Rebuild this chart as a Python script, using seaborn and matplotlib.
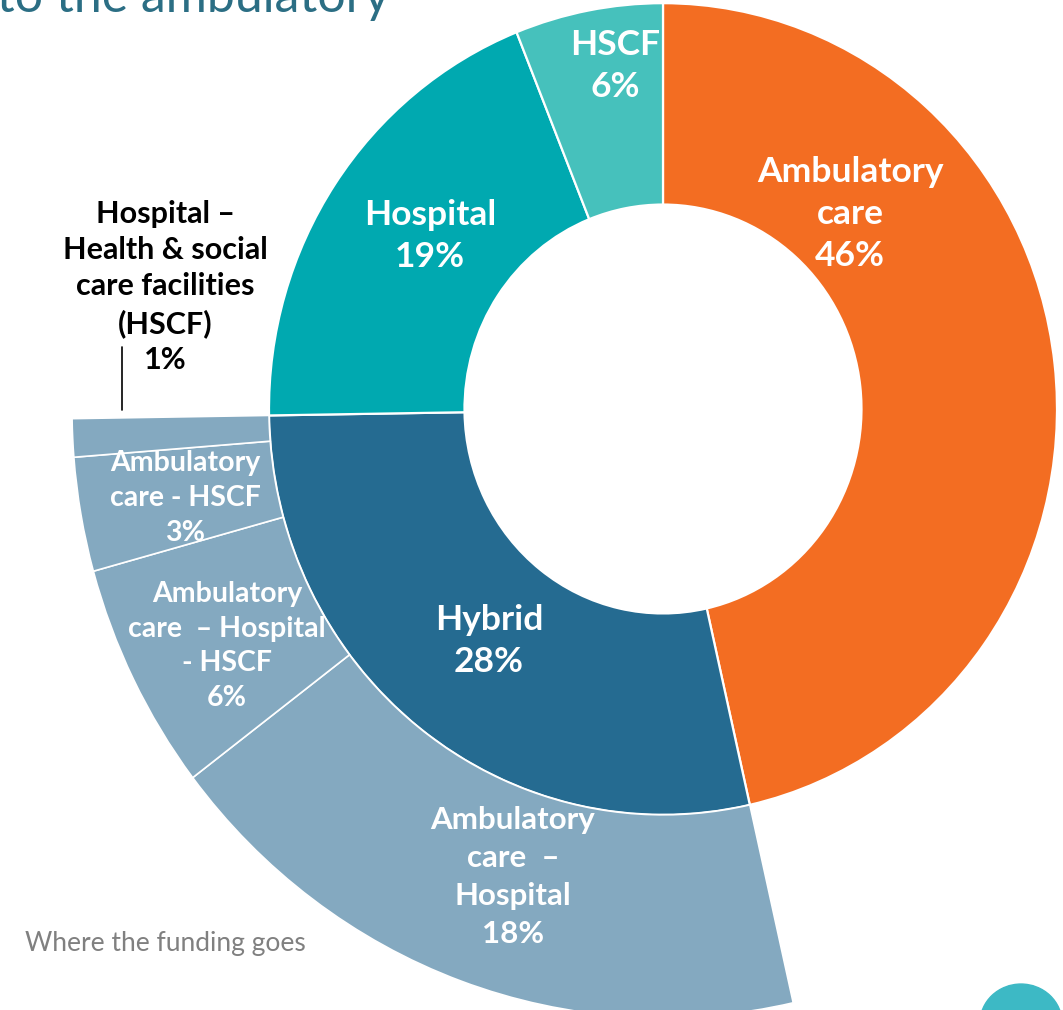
import matplotlib
matplotlib.use("Agg")
import matplotlib.pyplot as plt
import seaborn as sns

# main ring: where the funding goes
segments = ["Ambulatory care", "Hybrid", "Hospital", "HSCF"]
shares = [46, 28, 19, 6]
seg_labels = ["Ambulatory\ncare\n46%", "Hybrid\n28%", "Hospital\n19%", "HSCF\n6%"]

# breakdown of the hybrid slice (clockwise from the ambulatory edge)
hybrid_parts = ["Ambulatory care - Hospital", "Ambulatory care - Hospital - HSCF",
                "Ambulatory care - HSCF", "Hospital - HSCF"]
hybrid_shares = [18, 6, 3, 1]
hybrid_labels = ["Ambulatory\ncare  \u2013\nHospital\n18%",
                 "Ambulatory\ncare  \u2013 Hospital\n- HSCF\n6%",
                 "Ambulatory\ncare - HSCF\n3%",
                 "Hospital \u2013\nHealth & social\ncare facilities\n(HSCF)\n1%"]

ring_colors = ["#F36D22", "#256B91", "#00A9B0", "#46C1BC"]
fan_color = "#84A9C0"

sns.set_theme(style="white")
plt.rcParams["font.family"] = ["Lato", "DejaVu Sans"]

W, H = 1063, 1010
fig = plt.figure(figsize=(W / 100, H / 100), dpi=100)
ax = fig.add_axes([0, 0, 1, 1])

# the slide graphic is slightly taller than wide
stretch = 1.03
cx, cy = 663, -409 / stretch
r_hole, r_ring, r_fan = 198.5, 394, 591

ax.pie(shares, radius=r_ring, startangle=90, counterclock=False,
       colors=ring_colors, center=(cx, cy),
       wedgeprops=dict(width=r_ring - r_hole, edgecolor="white", linewidth=1.6))

# outer fan only under the hybrid slice
fan_vals = [shares[0]] + hybrid_shares + shares[2:]
fan_cols = ["none"] + [fan_color] * len(hybrid_shares) + ["none"] * 2
fan, _ = ax.pie(fan_vals, radius=r_fan, startangle=90, counterclock=False,
                colors=fan_cols, center=(cx, cy),
                wedgeprops=dict(width=r_fan - r_ring, edgecolor="white", linewidth=1.2))
for w in [fan[0]] + fan[-2:]:
    w.set_visible(False)

ax.set_xlim(0, W)
ax.set_ylim(-H / stretch, 0)
ax.set_aspect("auto")
ax.axis("off")


def put(x, y, s, **kw):
    fig.text(x / W, 1 - y / H, s, ha="center", va="center", **kw)


bold = dict(fontweight="bold", color="white")
put(850, 214, seg_labels[0], fontsize=25.5, linespacing=1.39, **bold)
put(489, 641, seg_labels[1], fontsize=25.5, linespacing=1.39, **bold)
put(430, 236, seg_labels[2], fontsize=25.5, linespacing=1.39, **bold)
put(615, 66, seg_labels[3], fontsize=25.5, linespacing=1.39, **bold)

put(513, 877, hybrid_labels[0], fontsize=22.5, linespacing=1.44, **bold)
put(227, 646, hybrid_labels[1], fontsize=20.5, linespacing=1.42, **bold)
put(185, 498, hybrid_labels[2], fontsize=20.5, linespacing=1.42, **bold)
put(165, 287, hybrid_labels[3], fontsize=22, fontweight="bold", color="black",
    linespacing=1.35)
fig.add_artist(plt.Line2D([122 / W, 122 / W], [1 - 347 / H, 1 - 410 / H],
                          color="black", linewidth=1.2))

put(165, 943, "Where the funding goes", fontsize=19, color="#808080")
fig.text(390 / W, 1 - 12 / H, "d to the ambulatory", ha="right", va="baseline",
         fontsize=36, fontweight="normal", color="#2B6E84")

fig.add_artist(plt.Circle((1021 / W, 1 - 1023 / H), 41 / W, transform=fig.transFigure,
                          color="#3DB9C5"))

fig.savefig("out.png", dpi=100)
